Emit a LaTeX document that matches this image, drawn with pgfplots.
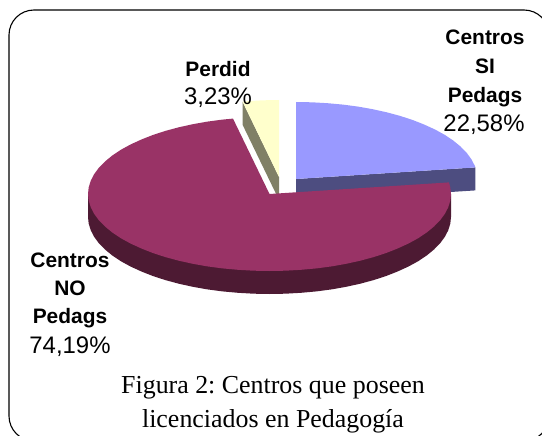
\documentclass[border=0pt]{standalone}
\usepackage{pgfplots}
\usepackage{pgfplotstable}
\usepackage{fontspec}
\setmainfont{Liberation Sans}
\newfontfamily\capfont{Liberation Serif}
\pgfplotsset{compat=1.18}
\definecolor{cblue}{HTML}{9999FF}
\definecolor{cbluew}{HTML}{4D4D80}
\definecolor{cmag}{HTML}{993366}
\definecolor{cmagw}{HTML}{4D1A33}
\definecolor{cyel}{HTML}{FFFFCC}
\definecolor{cyelw}{HTML}{808066}
% Offsets from each slice's centre, in pixels, y upward
\pgfplotstableread{
x y
0 0
0 77
15.8 76.7
31.5 75.8
47.0 74.4
62.1 72.4
76.7 69.8
90.75 66.7
104.1 63.1
116.7 59.0
128.3 54.4
139.0 49.5
148.7 44.2
157.2 38.5
164.5 32.5
170.6 26.3
175.3 19.9
178.7 13.4
179.4 11.6
}\tblblue
\pgfplotstableread{
x y
0 0
179.4 11.6
179.4 -11.4
0 -23
}\tblbluew
\pgfplotstableread{
x y
0 0
-36.5 75.4
-31.5 75.8
-15.8 76.7
0 77
}\tblyel
\pgfplotstableread{
x y
0 0
-36.5 75.4
-36.5 52.4
0 -23
}\tblyelw
\pgfplotstableread{
x y
0 0
179.4 11.6
180.8 6.7
181.5 0
180.8 -6.7
178.7 -13.4
175.3 -19.9
170.6 -26.3
164.5 -32.5
157.2 -38.5
148.7 -44.2
139.0 -49.5
128.3 -54.4
116.7 -59.0
104.1 -63.1
90.75 -66.7
76.7 -69.8
62.1 -72.4
47.0 -74.4
31.5 -75.8
15.8 -76.7
0 -77
-15.8 -76.7
-31.5 -75.8
-47.0 -74.4
-62.1 -72.4
-76.7 -69.8
-90.75 -66.7
-104.1 -63.1
-116.7 -59.0
-128.3 -54.4
-139.0 -49.5
-148.7 -44.2
-157.2 -38.5
-164.5 -32.5
-170.6 -26.3
-175.3 -19.9
-178.7 -13.4
-180.8 -6.7
-181.5 0
-180.8 6.7
-178.7 13.4
-175.3 19.9
-170.6 26.3
-164.5 32.5
-157.2 38.5
-148.7 44.2
-139.0 49.5
-128.3 54.4
-116.7 59.0
-104.1 63.1
-90.75 66.7
-76.7 69.8
-62.1 72.4
-47.0 74.4
-36.5 75.4
}\tblmag
\pgfplotstableread{
x y
181.5 0
181.5 -23
180.8 -29.7
178.7 -36.4
175.3 -42.9
170.6 -49.3
164.5 -55.5
157.2 -61.5
148.7 -67.2
139.0 -72.5
128.3 -77.4
116.7 -82.0
104.1 -86.1
90.75 -89.7
76.7 -92.8
62.1 -95.4
47.0 -97.4
31.5 -98.8
15.8 -99.7
0 -100
-15.8 -99.7
-31.5 -98.8
-47.0 -97.4
-62.1 -95.4
-76.7 -92.8
-90.75 -89.7
-104.1 -86.1
-116.7 -82.0
-128.3 -77.4
-139.0 -72.5
-148.7 -67.2
-157.2 -61.5
-164.5 -55.5
-170.6 -49.3
-175.3 -42.9
-178.7 -36.4
-180.8 -29.7
-181.5 -23
-181.5 0
}\tblmagw
\newcommand{\bl}{\fontsize{21}{21}\selectfont\bfseries}
\newcommand{\rg}{\fontsize{24}{24}\selectfont}
\newcommand{\cp}{\capfont\fontsize{26}{26}\selectfont}
\frenchspacing
\begin{document}
\frenchspacing
\begin{tikzpicture}
\useasboundingbox (0,0) rectangle (542bp,436bp);
\begin{axis}[
  at={(0,0)}, anchor=south west,
  scale only axis, width=542bp, height=436bp,
  xmin=0, xmax=542, ymin=0, ymax=436, y dir=reverse,
  hide axis, clip=false,
  every node/.style={inner sep=0pt, outer sep=0pt},
]
\draw[black, line width=1.1bp, rounded corners=25bp] (axis cs:9,10) rectangle (axis cs:549,441);
% blue slice
\addplot[draw=none, fill=cbluew, forget plot] table[x expr=\thisrow{x}+296, y expr=179-\thisrow{y}] {\tblbluew} --cycle;
\addplot[draw=none, fill=cblue, forget plot] table[x expr=\thisrow{x}+296, y expr=179-\thisrow{y}] {\tblblue} --cycle;
% yellow slice
\addplot[draw=none, fill=cyelw, forget plot] table[x expr=\thisrow{x}+279, y expr=177-\thisrow{y}] {\tblyelw} --cycle;
\addplot[draw=none, fill=cyel, forget plot] table[x expr=\thisrow{x}+279, y expr=177-\thisrow{y}] {\tblyel} --cycle;
% magenta slice
\addplot[draw=none, fill=cmagw, forget plot] table[x expr=\thisrow{x}+269.5, y expr=194-\thisrow{y}] {\tblmagw} --cycle;
\addplot[draw=none, fill=cmag, forget plot] table[x expr=\thisrow{x}+269.5, y expr=194-\thisrow{y}] {\tblmag} --cycle;
% labels
\node[anchor=base] at (axis cs:485,45) {\bl Centros};
\node[anchor=base] at (axis cs:485,74) {\bl SI};
\node[anchor=base] at (axis cs:485,102) {\bl Pedags};
\node[anchor=base] at (axis cs:484,131) {\rg 22,58\%};
\node[anchor=base] at (axis cs:218,77) {\bl Perdid};
\node[anchor=base] at (axis cs:218,104) {\rg 3,23\%};
\node[anchor=base] at (axis cs:70,267) {\bl Centros};
\node[anchor=base] at (axis cs:70,295) {\bl NO};
\node[anchor=base] at (axis cs:70,323) {\bl Pedags};
\node[anchor=base] at (axis cs:70,353) {\rg 74,19\%};
\node[anchor=base] at (axis cs:273,393) {\cp Figura 2: Centros que poseen};
\node[anchor=base] at (axis cs:273,427) {\cp licenciados en Pedagogía};
\end{axis}
\end{tikzpicture}
\end{document}
